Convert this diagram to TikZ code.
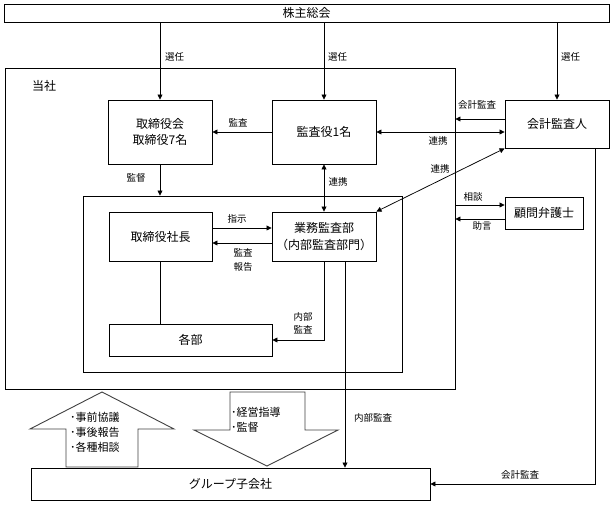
\documentclass[tikz,border=0pt]{standalone}
\usepackage{fontspec}
\setmainfont{Noto Sans CJK JP}
\usetikzlibrary{arrows.meta,calc}
\begin{document}
\begin{tikzpicture}[x=1pt,y=-1pt,
  box/.style={draw,line width=0.9pt,inner sep=0pt,align=center,font=\fontsize{12}{16.5}\selectfont},
  conn/.style={line width=0.75pt,-{Triangle[length=5pt,width=5pt]}},
  dconn/.style={line width=0.75pt,{Triangle[length=5pt,width=5pt]}-{Triangle[length=5pt,width=5pt]}},
  plainline/.style={line width=0.75pt},
  lbl/.style={font=\fontsize{9.5}{12}\selectfont,inner sep=0pt},
  blockarrow/.style={draw=black!75,line width=0.9pt,fill=white},
  blocktext/.style={font=\fontsize{11}{15}\selectfont,inner sep=0pt,align=left,anchor=west},
]
\useasboundingbox (0,0) rectangle (614,505);

% frames
\node[box,minimum width=450pt,minimum height=321pt] (tosha) at (230,228.5) {};
\node[box,minimum width=319pt,minimum height=176pt] (inner) at (242.5,284) {};
\node[font=\fontsize{12}{14}\selectfont,inner sep=0pt] (toshalbl) at (44,86) {当社};

% boxes
\node[box,minimum width=605pt,minimum height=18pt] (kabu) at (306.5,13) {株主総会};
\node[box,minimum width=104pt,minimum height=64pt] (board) at (160,132) {取締役会\\取締役7名};
\node[box,minimum width=104pt,minimum height=64pt] (kansa) at (324,132) {監査役1名};
\node[box,minimum width=104pt,minimum height=48pt] (kaikei) at (557,124) {会計監査人};
\node[box,minimum width=78pt,minimum height=32pt] (komon) at (544,213) {顧問弁護士};
\node[box,minimum width=103pt,minimum height=49pt] (shacho) at (160.5,236.5) {取締役社長};
\node[box,minimum width=104pt,minimum height=49pt] (gyomu) at (324,236.5) {業務監査部\\（内部監査部門）};
\node[box,minimum width=163pt,minimum height=32pt] (kakubu) at (190.5,340) {各部};
\node[box,minimum width=399pt,minimum height=32pt] (group) at (230.5,484) {グループ子会社};

% 選任
\draw[conn] (kabu.south -| board.north) -- (board.north);
\draw[conn] (kabu.south -| kansa.north) -- (kansa.north);
\draw[conn] (kabu.south -| kaikei.north) -- (kaikei.north);
\node[lbl,anchor=west] (s1) at (165,57) {選任};
\node[lbl,anchor=west] (s2) at (328,57) {選任};
\node[lbl,anchor=west] (s3) at (561,57) {選任};

% 監査 (監査役 -> 取締役会)
\draw[conn] (kansa.west) -- (board.east);
\node[lbl] (l1) at (238,123) {監査};

% 連携 監査役 <-> 会計監査人
\draw[dconn] (kansa.east) -- (kansa.east -| kaikei.west);
\node[lbl] (l2) at (438,141) {連携};

% 会計監査 -> 当社
\draw[conn] ([yshift=5pt]kaikei.west) -- ([yshift=5pt]kaikei.west -| tosha.east);
\node[lbl] (l3) at (477,105) {会計監査};

% diagonal 連携
\draw[dconn] (gyomu.north east) -- (kaikei.south west);
\node[lbl] (l4) at (440,169) {連携};

% 監督
\draw[conn] (board.south) -- (board.south |- inner.north);
\node[lbl] (l5) at (136,178) {監督};

% 連携 vertical
\draw[dconn] (kansa.south) -- (gyomu.north);
\node[lbl] (l6) at (338,182) {連携};

% 指示 / 監査報告
\draw[conn] ([yshift=8.5pt]shacho.east) -- ([yshift=8.5pt]shacho.east -| gyomu.west);
\node[lbl] (l7) at (237,219) {指示};
\draw[conn] ([yshift=-6.5pt]gyomu.west) -- ([yshift=-6.5pt]gyomu.west -| shacho.east);
\node[lbl,align=center,font=\fontsize{9.5}{14}\selectfont] (l8) at (243,260) {監査\\報告};

% 社長 - 各部
\draw[plainline] (shacho.south) -- (shacho.south |- kakubu.north);

% 内部監査 -> 各部
\draw[conn] (gyomu.south) -- (gyomu.south |- kakubu.east) -- (kakubu.east);
\node[lbl,align=center,font=\fontsize{9.5}{13}\selectfont] (l9) at (303,323.5) {内部\\監査};

% 内部監査 -> グループ子会社
\coordinate (ga) at ([xshift=21pt]gyomu.south);
\draw[conn] (ga) -- (ga |- group.north);
\node[lbl] (l10) at (373,418) {内部監査};

% 会計監査 -> グループ子会社
\coordinate (kb) at ([xshift=38pt]kaikei.south);
\draw[conn] (kb) -- (kb |- group.east) -- (group.east);
\node[lbl] (l11) at (520,475) {会計監査};

% 相談 / 助言
\draw[conn] ([yshift=8pt]komon.west -| tosha.east) -- ([yshift=8pt]komon.west);
\node[lbl] (l12) at (473,197) {相談};
\draw[conn] ([yshift=-6pt]komon.west) -- ([yshift=-6pt]komon.west -| tosha.east);
\node[lbl] (l13) at (482,226) {助言};

% block arrows
\draw[blockarrow] (66,467) -- (66,429) -- (30,429) -- (102,392) -- (174,429) -- (138,429) -- (138,467) -- cycle;
\node[blocktext] (up) at (70,432) {･事前協議\\･事後報告\\･各種相談};
\draw[blockarrow] (230,392) -- (305,392) -- (305,430) -- (338,430) -- (267,466) -- (194,430) -- (230,430) -- cycle;
\node[blocktext] (down) at (231,420) {･経営指導\\･監督};
\end{tikzpicture}
\end{document}
